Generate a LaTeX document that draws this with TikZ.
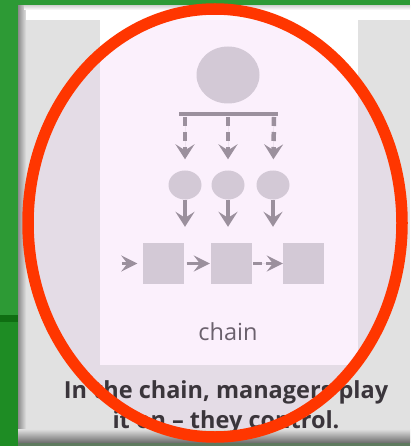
\documentclass[tikz,border=0pt]{standalone}
\usepackage{fontspec}
\setmainfont{Open Sans}
\usetikzlibrary{arrows.meta,shapes.geometric}
\definecolor{grnA}{HTML}{2D9A35}
\definecolor{grnB}{HTML}{1E8C24}
\definecolor{grnD}{HTML}{0F6E12}
\definecolor{grnE}{HTML}{5E7A5E}
\definecolor{panelgray}{HTML}{E1E1E1}
\definecolor{tintgray}{HTML}{E4DCE6}
\definecolor{tintwhite}{HTML}{FBF0FC}
\definecolor{shapefill}{HTML}{D3C9D6}
\definecolor{arrowcol}{HTML}{9B909D}
\definecolor{labelcol}{HTML}{6B616D}
\definecolor{captioncol}{HTML}{3A353B}
\definecolor{ringred}{HTML}{FF3600}
\tikzset{
  blob/.style={ellipse, fill=shapefill, inner sep=0pt},
  boxnode/.style={rectangle, fill=shapefill, minimum width=41pt, minimum height=41pt, inner sep=0pt},
  headtip/.style={-{Stealth[length=15pt,width=19pt,inset=6pt]}},
  dasharrow/.style={headtip, draw=arrowcol, fill=arrowcol, line width=4.5pt, dash pattern=on 9pt off 6pt},
  solidarrow/.style={headtip, draw=arrowcol, fill=arrowcol, line width=4.5pt},
  sidearrow/.style={-{Stealth[length=16pt,width=16pt,inset=6pt]}, draw=arrowcol, fill=arrowcol, line width=3.5pt},
}
\begin{document}
\begin{tikzpicture}[x=1pt,y=-1pt]
\useasboundingbox (0,0) rectangle (410,446);
% green surroundings
\fill[grnA] (0,0) rectangle (410,446);
\fill[grnB] (0,320) rectangle (18,446);
\fill[grnD] (0,315) rectangle (18,322);
\fill[grnE] (18,442) rectangle (410,446);
% bevelled frame
\fill[panelgray] (18,6) rectangle (410,442);
\shade[left color=black!45, right color=black!8] (18,6) rectangle (27,442);
\shade[top color=black!12, bottom color=black!55] (18,429) rectangle (410,442);
\shade[top color=white!85!black, bottom color=white] (24,6) rectangle (410,10);
\fill[white] (26,10) rectangle (410,20);
\fill[panelgray] (27,20) rectangle (410,429);
\fill[white] (100,20) rectangle (358,365);
% tinted inside of the ring
\begin{scope}
  \clip (215,223) ellipse [x radius=187, y radius=214];
  \fill[tintgray] (27,20) rectangle (410,429);
  \fill[tintwhite] (100,6) rectangle (358,365);
  \fill[tintwhite!60!white] (27,6) rectangle (410,20);
\end{scope}
% hierarchy icon
\node[blob, minimum width=63pt, minimum height=57pt] (boss) at (228,75) {};
\coordinate (barL) at (179,114);
\coordinate (barR) at (278,114);
\draw[arrowcol, line width=4.5pt] (barL) -- (barR);
\node[blob, minimum width=33pt, minimum height=29pt] (m1) at (185,185) {};
\node[blob, minimum width=33pt, minimum height=29pt] (m2) at (228,185) {};
\node[blob, minimum width=33pt, minimum height=29pt] (m3) at (273,185) {};
\coordinate (b1) at (185,117);
\coordinate (b2) at (228,117);
\coordinate (b3) at (274,117);
\draw[dasharrow, shorten >=11pt] (b1) -- (m1);
\draw[dasharrow, shorten >=11pt] (b2) -- (m2);
\draw[dasharrow, shorten >=11pt] (b3) -- (m3);
\node[boxnode] (s1) at (163,263.5) {};
\node[boxnode] (s2) at (231.5,263.5) {};
\node[boxnode] (s3) at (303.5,263.5) {};
\draw[solidarrow, shorten >=16pt] (m1) -- (m1 |- s1.north);
\draw[solidarrow, shorten >=16pt] (m2) -- (m2 |- s2.north);
\draw[solidarrow, shorten >=16pt] (m3) -- (m3 |- s3.north);
\coordinate (feed) at (122,263.5);
\draw[sidearrow, shorten >=5pt] (feed) -- (s1);
\draw[sidearrow, shorten <=3pt, shorten >=1pt] (s1) -- (s2);
\draw[sidearrow, shorten <=1pt, dash pattern=on 9pt off 4pt] (s2) -- (s3);
\node[text=labelcol, font=\fontsize{23.5}{26}\selectfont] (lbl) at (228,332) {chain};
% caption
\node[text=captioncol, font=\bfseries\fontsize{23.5}{30.5}\selectfont, align=center, anchor=north] (cap) at (226,377)
  {In the chain, managers play\\it on -- they control.};
% red ring
\draw[ringred, line width=11.5pt] (215,223) ellipse [x radius=187, y radius=214];
\end{tikzpicture}
\end{document}
